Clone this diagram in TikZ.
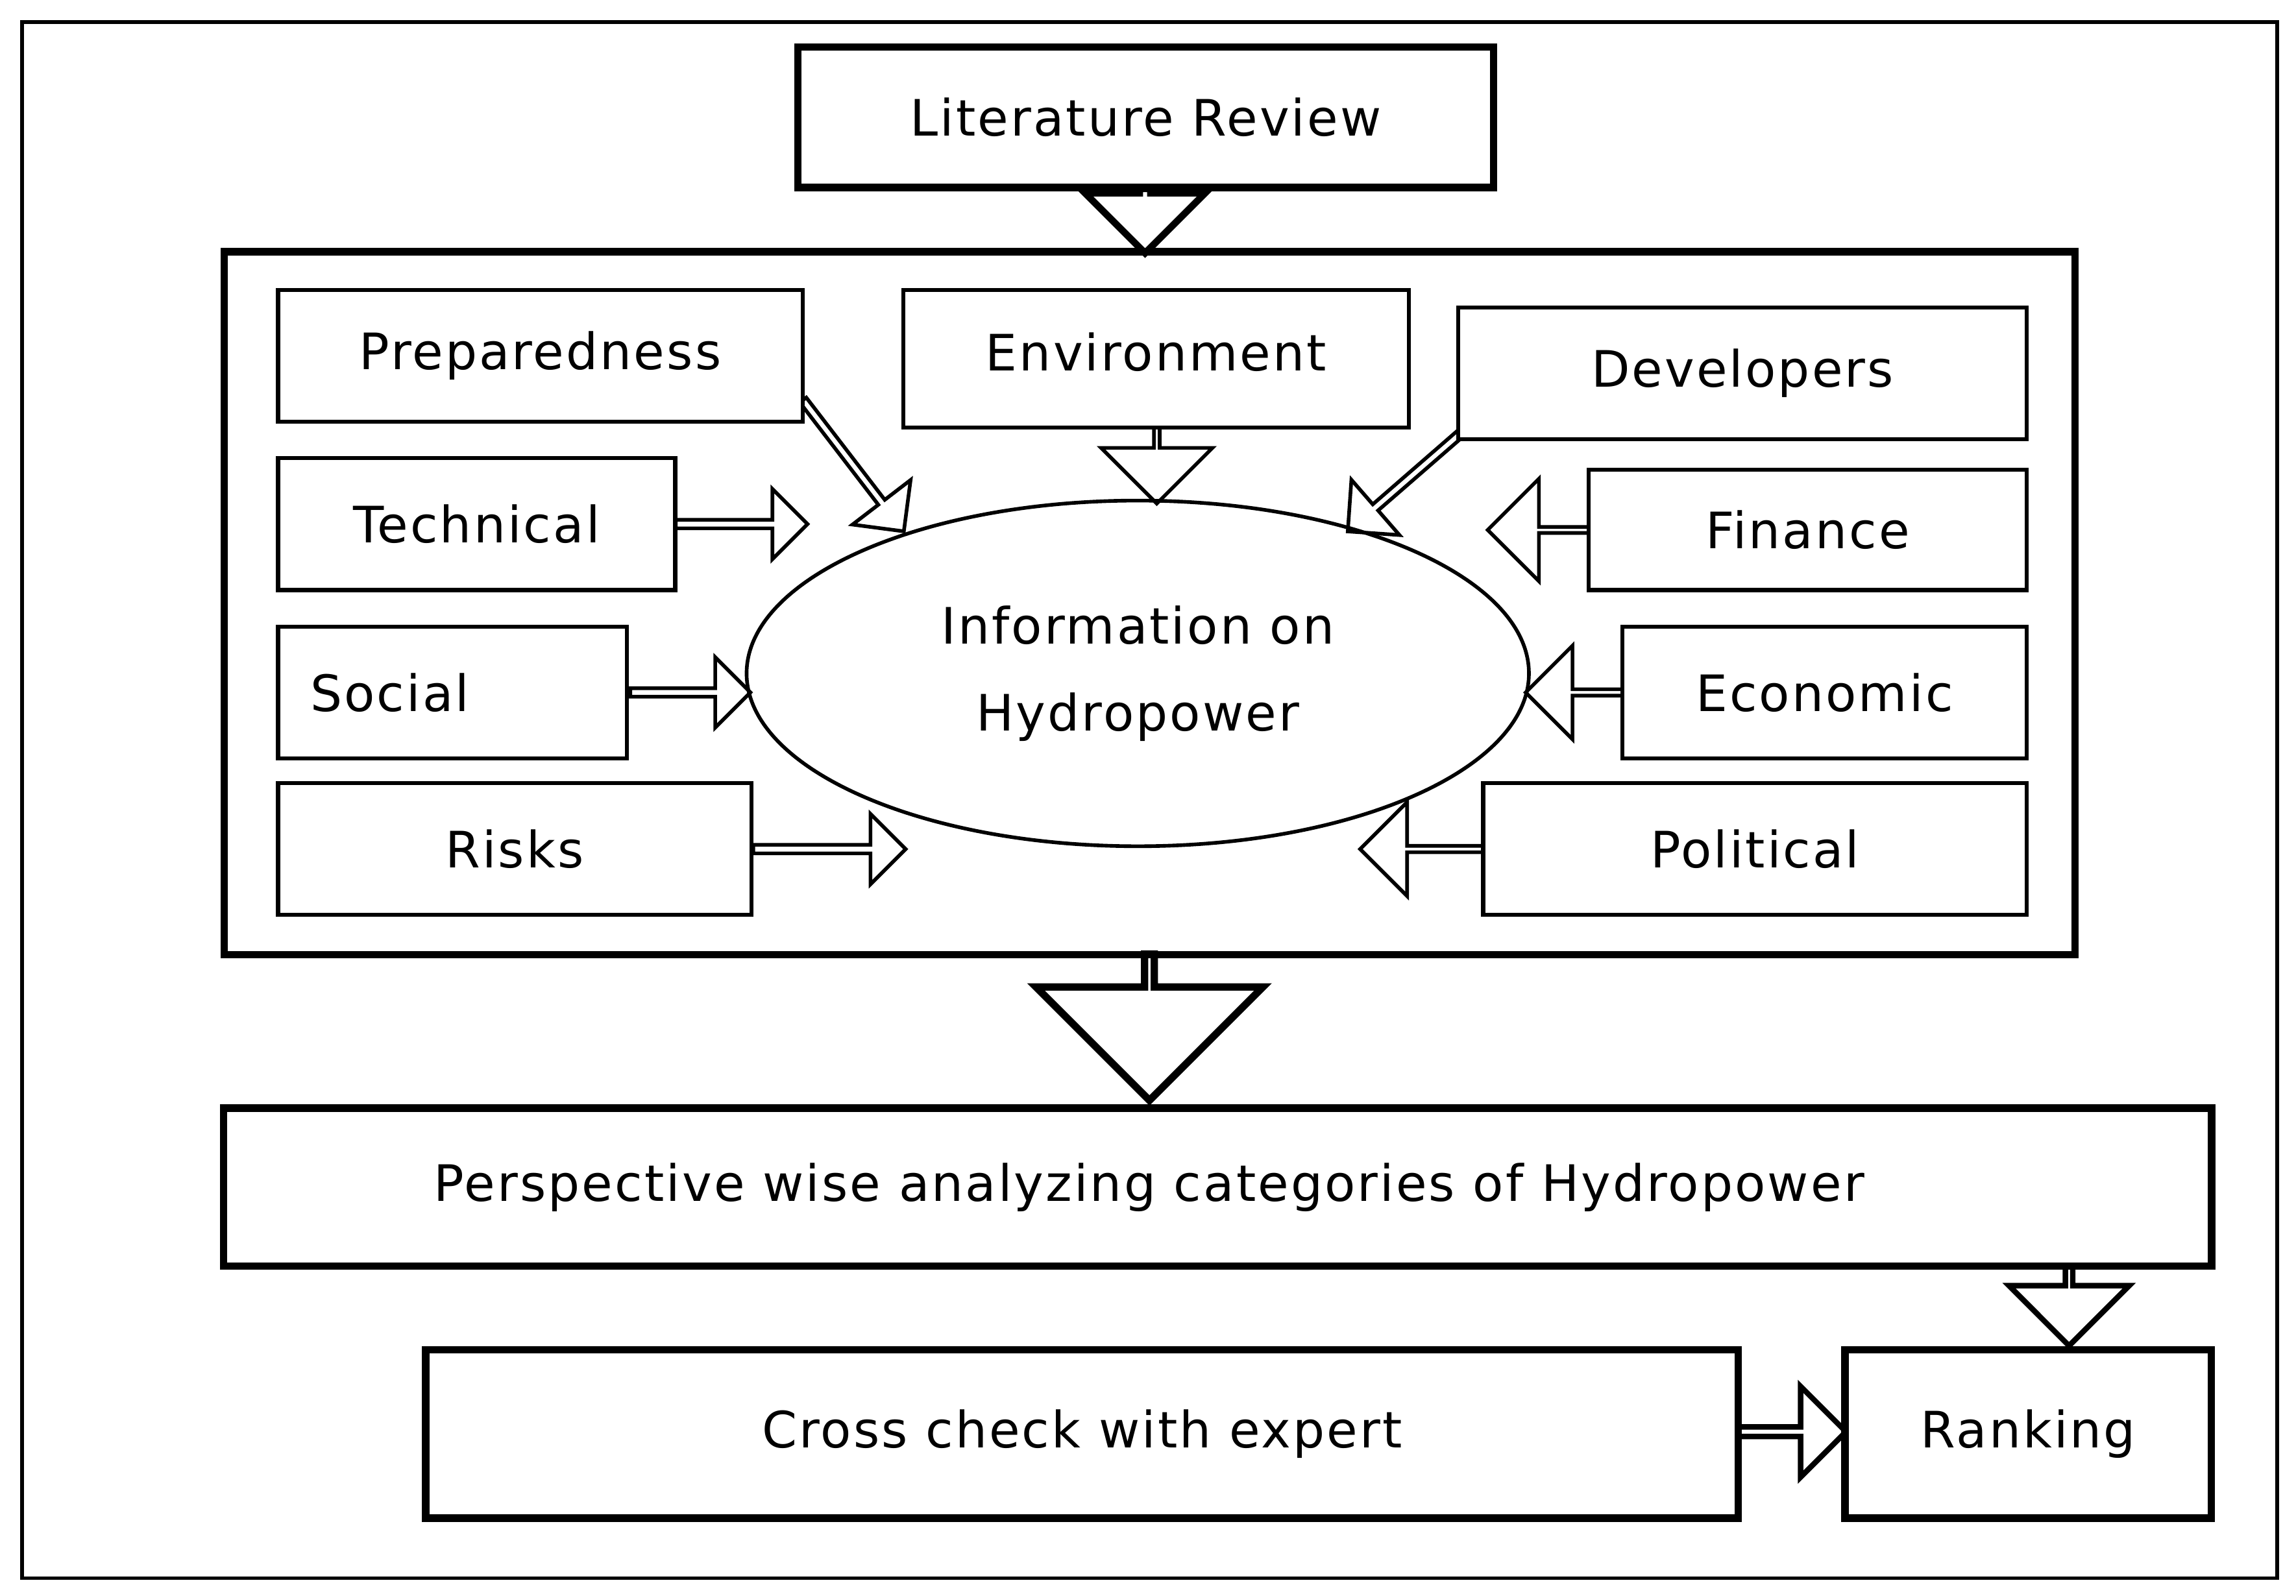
\documentclass[tikz,border=0pt]{standalone}
\usepackage{fontspec}
\setmainfont{DejaVu Sans}[LetterSpace=4]
\usetikzlibrary{shapes.arrows,shapes.geometric}
\begin{document}
\begin{tikzpicture}[x=0.02256cm,y=-0.02256cm,
  thickbox/.style={draw,line width=3.2pt,fill=white,inner sep=0pt,font=\fontsize{22}{26}\selectfont},
  thinbox/.style={draw,line width=1.8pt,fill=white,inner sep=0pt,font=\fontsize{22}{26}\selectfont},
  barr/.style={single arrow,draw,fill=white,line width=1.6pt,inner sep=0pt,outer sep=0pt}]
\useasboundingbox (0,0) rectangle (1568,1090);
\newcommand{\barrow}[8]{\node[barr,minimum height={#5*0.642pt},minimum width={#7*0.642pt},
  single arrow head extend={(#7-#6)/2*0.642pt},rotate=#4,line width=#8] (#1) at (#2,#3) {};}
\draw[line width=1.6pt] (15,15) rectangle (1555,1078);
% arrows
\barrow{a1}{782}{149}{-90}{44}{35}{82}{3pt}
\barrow{a2}{785}{700}{-90}{100}{45}{155}{3.2pt}
\barrow{a3}{1413}{891}{-90}{54}{25}{82}{2.4pt}
\barrow{a4}{1222}{978}{0}{74}{30}{62}{2.4pt}
\barrow{aT}{505}{358}{0}{90}{30}{48}{1.6pt}
\barrow{aS}{470}{473}{0}{82}{30}{48}{1.6pt}
\barrow{aR}{565}{580}{0}{104}{30}{48}{1.6pt}
\barrow{aE}{790}{317}{-90}{52}{30}{76}{1.6pt}
\barrow{aF}{1052}{362}{180}{70}{30}{70}{1.6pt}
\barrow{aEc}{1076}{473}{180}{66}{30}{64}{1.6pt}
\barrow{aP}{972}{580}{180}{84}{30}{64}{1.6pt}
\barrow{aPr}{582}{317}{-52.5}{113}{30}{50}{1.6pt}
\barrow{aD}{963}{326}{221}{110}{30}{50}{1.6pt}
% boxes
\node[thickbox,minimum width={475*0.642pt},minimum height={96*0.642pt}] (lit) at (782.5,80) {Literature Review};
\draw[line width=3.2pt] (153,172) rectangle (1417,652);
\node[draw,line width=1.6pt,ellipse,fill=none,minimum width={534*0.642pt},minimum height={236*0.642pt},inner sep=0pt,align=center,font=\fontsize{22}{38}\selectfont] (info) at (777,460) {Information on\\Hydropower};
\node[thinbox,minimum width={358*0.642pt},minimum height={90*0.642pt}] (prep) at (369,243) {Preparedness};
\node[thinbox,minimum width={345*0.642pt},minimum height={94*0.642pt}] (env) at (789.5,245) {\raisebox{6pt}{Environment}};
\node[thinbox,minimum width={388*0.642pt},minimum height={90*0.642pt}] (dev) at (1190,255) {Developers};
\node[thinbox,minimum width={271*0.642pt},minimum height={90*0.642pt}] (tech) at (325.5,358) {Technical};
\node[thinbox,minimum width={299*0.642pt},minimum height={82*0.642pt}] (fin) at (1234.5,362) {Finance};
\node[thinbox,minimum width={238*0.642pt},minimum height={90*0.642pt}] (soc) at (309,473) {\hspace*{-55pt}Social};
\node[thinbox,minimum width={276*0.642pt},minimum height={90*0.642pt}] (eco) at (1246,473) {Economic};
\node[thinbox,minimum width={323*0.642pt},minimum height={90*0.642pt}] (risk) at (351.5,580) {Risks};
\node[thinbox,minimum width={371*0.642pt},minimum height={90*0.642pt}] (pol) at (1198.5,580) {Political};
\node[thickbox,minimum width={1357*0.642pt},minimum height={108*0.642pt}] (persp) at (831.5,811) {\hspace*{-60pt}Perspective wise analyzing categories of Hydropower};
\node[thickbox,minimum width={896*0.642pt},minimum height={115*0.642pt}] (cross) at (739,979.5) {Cross check with expert};
\node[thickbox,minimum width={250*0.642pt},minimum height={115*0.642pt}] (rank) at (1385,979.5) {\raisebox{4pt}{Ranking}};
\end{tikzpicture}
\end{document}
